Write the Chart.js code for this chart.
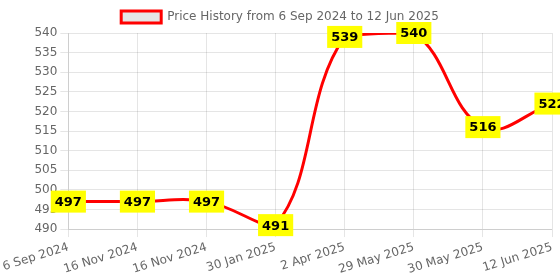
<!DOCTYPE html>
<html>
<head>
<meta charset="utf-8">
<script src="https://cdn.jsdelivr.net/npm/chart.js@4"></script>
<style>
html,body{margin:0;padding:0;background:#fff;}
#wrap{width:560px;height:280px;}
</style>
</head>
<body>
<div id="wrap"><canvas id="c"></canvas></div>
<script>
const categories = ["6 Sep 2024","16 Nov 2024","16 Nov 2024","30 Jan 2025","2 Apr 2025","29 May 2025","30 May 2025","12 Jun 2025"];
const prices = [497, 497, 497, 491, 539, 540, 516, 522];
const seriesLabel = "Price History from 6 Sep 2024 to 12 Jun 2025";

Chart.defaults.font.family = "'DejaVu Sans', sans-serif";
Chart.defaults.font.size = 12;
Chart.defaults.color = "#666";

const labelPlugin = {
  id: 'valueLabels',
  afterDatasetsDraw(chart) {
    const ctx = chart.ctx;
    const meta = chart.getDatasetMeta(0);
    const data = chart.data.datasets[0].data;
    ctx.save();
    ctx.font = "bold 13px 'DejaVu Sans', sans-serif";
    ctx.textAlign = 'center';
    ctx.textBaseline = 'middle';
    meta.data.forEach((pt, i) => {
      const txt = String(data[i]);
      const w = ctx.measureText(txt).width + 8;
      const h = 22;
      ctx.fillStyle = '#ffff00';
      ctx.fillRect(pt.x - w / 2, pt.y - h / 2, w, h);
      ctx.fillStyle = '#000';
      ctx.fillText(txt, pt.x, pt.y + 1);
    });
    ctx.restore();
  }
};

new Chart(document.getElementById('c'), {
  type: 'line',
  data: {
    labels: categories,
    datasets: [{
      label: seriesLabel,
      data: prices,
      borderColor: '#ff0000',
      backgroundColor: 'rgba(0,0,0,0.1)',
      borderWidth: 3,
      tension: 0.4,
      pointRadius: 0,
      fill: false
    }]
  },
  options: {
    responsive: true,
    maintainAspectRatio: false,
    animation: false,
    layout: { padding: { top: 1 } },
    plugins: {
      legend: { display: true, labels: { boxWidth: 40 } },
      tooltip: { enabled: false }
    },
    scales: {
      x: {
        grid: { color: 'rgba(0,0,0,0.1)' },
        ticks: { maxRotation: 90, minRotation: 0, autoSkip: false }
      },
      y: {
        min: 490, max: 540,
        grid: { color: 'rgba(0,0,0,0.1)' },
        ticks: { stepSize: 5 }
      },
      yPad: {
        position: 'right',
        display: true,
        min: 0, max: 1,
        grid: { display: false, drawTicks: false },
        border: { display: false },
        ticks: { display: false },
        afterFit(s) { s.width = 8; }
      }
    }
  },
  plugins: [labelPlugin]
});
</script>
</body>
</html>
